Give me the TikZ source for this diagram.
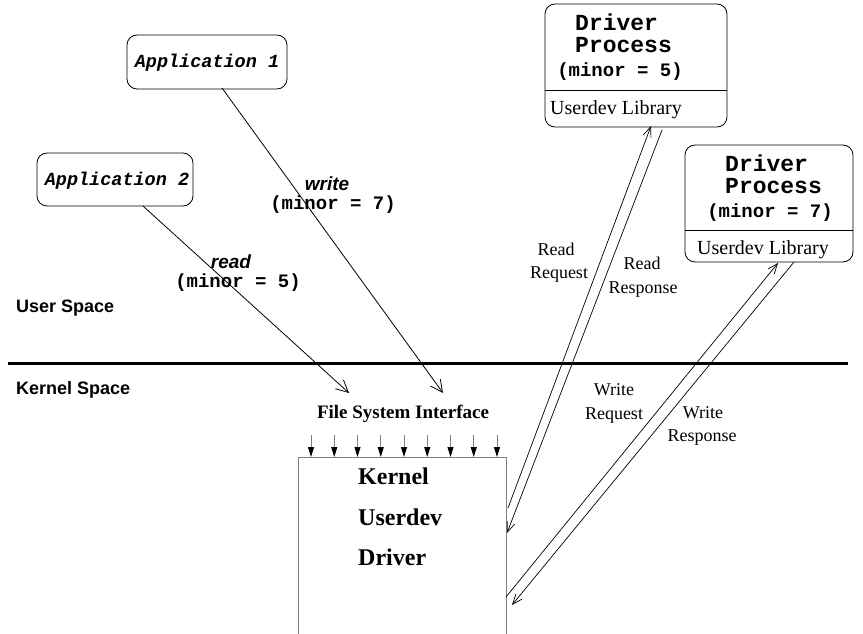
\documentclass[tikz,border=0pt]{standalone}
\usepackage{fontspec}
\setmainfont{Liberation Serif}
\newfontfamily\courf{Liberation Mono}
\newfontfamily\helvf{Liberation Sans}
\usetikzlibrary{arrows.meta}
\begin{document}
\begin{tikzpicture}[x=1pt,y=-1pt,
  box/.style={draw, rounded corners=10pt, line width=0.8pt, inner sep=0},
  lbl/.style={inner sep=0, anchor=base},
  lblw/.style={inner sep=0, anchor=base west},
  appfont/.style={font=\courf\bfseries\itshape\fontsize{18.5}{20}\selectfont},
  drvfont/.style={font=\courf\bfseries\fontsize{23}{25}\selectfont},
  minfont/.style={font=\courf\bfseries\fontsize{19}{21}\selectfont},
  opfont/.style={font=\helvf\bfseries\itshape\fontsize{19}{21}\selectfont},
  spfont/.style={font=\helvf\bfseries\fontsize{18}{20}\selectfont},
  libfont/.style={font=\fontsize{20}{22}\selectfont},
  msgfont/.style={font=\fontsize{18}{20}\selectfont},
  kfont/.style={font=\bfseries\fontsize{24}{26}\selectfont},
  fsfont/.style={font=\bfseries\fontsize{19}{21}\selectfont},
  callarrow/.style={line width=0.8pt, -{Straight Barb[length=12pt,width=12pt]}},
  msgarrow/.style={line width=0.7pt, -{Straight Barb[length=10pt,width=8pt]}},
  fsarrow/.style={draw=gray, line width=0.9pt, -{Triangle[length=10pt,width=6pt,color=black]}}
]
\useasboundingbox (0,0) rectangle (863,634);

% Application boxes
\node[box, minimum width=160, minimum height=54] (app1) at (207,62) {};
\node[lbl, appfont] (app1t) at (207,68) {Application 1};
\node[box, minimum width=156, minimum height=53] (app2) at (115,179.5) {};
\node[lbl, appfont] (app2t) at (117,185) {Application 2};

% Driver process boxes
\node[box, minimum width=182, minimum height=123] (dp1) at (636,65.5) {};
\draw[line width=0.8pt] (dp1.west |- 0,90) -- (dp1.east |- 0,90);
\node[lblw, drvfont] (dp1a) at (575,31) {Driver};
\node[lblw, drvfont] (dp1b) at (575,53) {Process};
\node[lbl, minfont] (dp1c) at (620,77) {(minor = 5)};
\node[lbl, libfont] (dp1d) at (616,114) {Userdev Library};

\node[box, minimum width=168, minimum height=117] (dp2) at (769,203.5) {};
\draw[line width=0.8pt] (dp2.west |- 0,230) -- (dp2.east |- 0,230);
\node[lblw, drvfont] (dp2a) at (725,171) {Driver};
\node[lblw, drvfont] (dp2b) at (725,193) {Process};
\node[lbl, minfont] (dp2c) at (770,217) {(minor = 7)};
\node[lbl, libfont] (dp2d) at (763,254) {Userdev Library};

% Space separator
\coordinate (sepL) at (8,363);
\coordinate (sepR) at (848,363);
\draw[line width=3pt] (sepL) -- (sepR);
\node[lblw, spfont] (us) at (16,312) {User Space};
\node[lblw, spfont] (ks) at (16,394) {Kernel Space};

% Kernel box
\node[draw=gray, line width=1pt, minimum width=208, minimum height=220, inner sep=0] (kbox) at (402,567) {};
\node[lblw, kfont] (k1) at (358,484) {Kernel};
\node[lblw, kfont] (k2) at (358,525) {Userdev};
\node[lblw, kfont] (k3) at (358,565) {Driver};

% File system interface
\node[lbl, fsfont] (fsi) at (403,418) {File System Interface};
\foreach \i in {0,...,8}{
  \draw[fsarrow] (311+23.25*\i,435) -- (311+23.25*\i,457);
}

% Application calls
\coordinate (a1s) at (222,88);
\coordinate (a1e) at (443,393);
\coordinate (a2s) at (143,206);
\coordinate (a2e) at (349,393);
\draw[callarrow] (a1s) -- (a1e);
\draw[callarrow] (a2s) -- (a2e);
\node[lbl, opfont] (wr) at (327,190) {write};
\node[lbl, minfont] (wrm) at (333,209) {(minor = 7)};
\node[lbl, opfont] (rd) at (231,268) {read};
\node[lbl, minfont] (rdm) at (238,287) {(minor = 5)};

% Read request / response
\coordinate (rq0) at (508,508);
\coordinate (rq1) at (651,126);
\coordinate (rs0) at (662,130);
\coordinate (rs1) at (507,533);
\draw[msgarrow] (rq0) -- (rq1);
\draw[msgarrow] (rs0) -- (rs1);
\node[lbl, msgfont] (rr1) at (556,255) {Read};
\node[lbl, msgfont] (rr2) at (559,278) {Request};
\node[lbl, msgfont] (rp1) at (642,269) {Read};
\node[lbl, msgfont] (rp2) at (643,293) {Response};

% Write request / response
\coordinate (wq0) at (506,597);
\coordinate (wq1) at (778,263);
\coordinate (ws0) at (794,262);
\coordinate (ws1) at (512,605);
\draw[msgarrow] (wq0) -- (wq1);
\draw[msgarrow] (ws0) -- (ws1);
\node[lbl, msgfont] (wr1) at (614,395) {Write};
\node[lbl, msgfont] (wr2) at (614,419) {Request};
\node[lbl, msgfont] (wp1) at (703,418) {Write};
\node[lbl, msgfont] (wp2) at (702,441) {Response};
\end{tikzpicture}
\end{document}
